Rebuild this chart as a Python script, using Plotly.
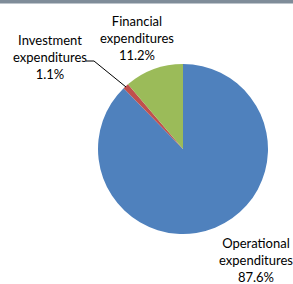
import plotly.graph_objects as go

labels = ["Operational expenditures", "Investment expenditures", "Financial expenditures"]
values = [87.6, 1.1, 11.2]
colors = ["#4F81BD", "#C0504D", "#9BBB59"]

W, H = 293, 284
def px(x): return x / W
def py(y): return 1 - y / H

fig = go.Figure(go.Pie(
    labels=labels, values=values, sort=False, direction="clockwise", rotation=0,
    marker=dict(colors=colors, line=dict(color="white", width=0)),
    textinfo="none", hoverinfo="label+percent", showlegend=False,
    domain=dict(x=[px(98), px(268)], y=[py(234), py(64)]),
))

font = dict(family="Lato, Carlito, Liberation Sans, sans-serif", size=13, color="#000000")
ann = [
    ("Financial<br>expenditures<br>%.1f%%" % values[2], 137, 38),
    ("Investment<br>expenditures<br>%.1f%%" % values[1], 50, 57),
    ("Operational<br>expenditures<br>%.1f%%" % values[0], 256, 260),
]
fig.update_layout(
    width=W, height=H, margin=dict(l=0, r=0, t=0, b=0),
    paper_bgcolor="white", plot_bgcolor="white",
    annotations=[dict(text=t, x=px(x), y=py(y), xref="paper", yref="paper",
                      xanchor="center", yanchor="middle", showarrow=False, font=font)
                 for t, x, y in ann],
    shapes=[
        dict(type="rect", xref="paper", yref="paper", x0=0, x1=1, y0=py(3.5), y1=1,
             fillcolor="#7F8C99", line=dict(width=0), layer="above"),
        dict(type="path", xref="paper", yref="paper",
             path="M %f %f L %f %f L %f %f" % (px(86), py(61), px(94), py(61), px(126), py(87)),
             line=dict(color="#000000", width=1)),
    ],
)
fig.write_html("out.html", config=dict(displayModeBar=False),
               post_script="document.body.style.margin='0';document.body.style.overflow='hidden';")
